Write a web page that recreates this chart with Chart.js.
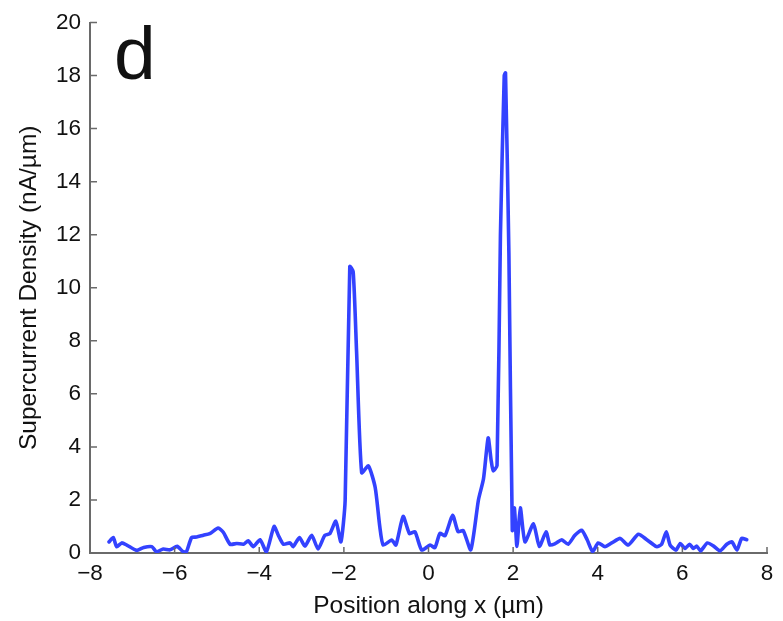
<!DOCTYPE html>
<html>
<head>
<meta charset="utf-8">
<script src="https://cdn.jsdelivr.net/npm/chart.js@4.4.1/dist/chart.umd.min.js"></script>
<style>
  html, body { margin: 0; padding: 0; background: #fff; }
  #wrap { width: 783px; height: 621px; position: relative; }
</style>
</head>
<body>
<div id="wrap"><canvas id="density-chart"></canvas></div>
<script>
// --- supercurrent density profile along x ---

const positions = [
  -7.55, -7.45, -7.37, -7.25, -7.13, -6.90, -6.73, -6.54, -6.43, -6.27,
  -6.11, -5.94, -5.80, -5.72, -5.60, -5.48, -5.32, -5.17, -4.97, -4.85,
  -4.69, -4.53, -4.37, -4.26, -4.14, -3.98, -3.83, -3.65, -3.55, -3.43,
  -3.27, -3.20, -3.05, -2.92, -2.76, -2.61, -2.45, -2.33, -2.19, -2.07,
  -1.97, -1.86, -1.78, -1.70, -1.58, -1.42, -1.26, -1.15, -1.07, -0.87,
  -0.77, -0.60, -0.45, -0.32, -0.16, 0.04, 0.15, 0.27, 0.39, 0.57,
  0.70, 0.82, 1.00, 1.18, 1.30, 1.41, 1.48, 1.53, 1.62, 1.70,
  1.79, 1.82, 1.90, 1.98, 2.03, 2.09, 2.17, 2.28, 2.48, 2.62,
  2.78, 2.87, 3.00, 3.15, 3.30, 3.46, 3.62, 3.75, 3.88, 4.01,
  4.17, 4.33, 4.53, 4.72, 4.96, 5.16, 5.39, 5.51, 5.62, 5.71,
  5.85, 5.95, 6.06, 6.17, 6.26, 6.34, 6.43, 6.59, 6.74, 6.89,
  7.05, 7.17, 7.29, 7.40, 7.52
];

const density = [
  0.42, 0.58, 0.24, 0.38, 0.30, 0.10, 0.21, 0.24, 0.05, 0.15,
  0.12, 0.25, 0.05, 0.05, 0.58, 0.60, 0.67, 0.73, 0.94, 0.78,
  0.33, 0.36, 0.33, 0.46, 0.24, 0.50, 0.05, 1.00, 0.67, 0.33,
  0.38, 0.24, 0.58, 0.26, 0.67, 0.15, 0.67, 0.73, 1.20, 0.42,
  1.98, 10.8, 10.6, 7.6, 3.03, 3.28, 2.47, 0.98, 0.30, 0.49,
  0.30, 1.38, 0.73, 0.80, 0.11, 0.30, 0.20, 0.74, 0.65, 1.42,
  0.80, 0.85, 0.12, 2.0, 2.8, 4.34, 3.5, 3.1, 3.3, 12.0,
  18.0, 18.1, 11.3, 0.86, 1.7, 0.25, 1.7, 0.42, 1.1, 0.25,
  0.80, 0.30, 0.36, 0.50, 0.33, 0.67, 0.86, 0.50, 0.05, 0.38,
  0.24, 0.38, 0.55, 0.30, 0.71, 0.50, 0.24, 0.33, 0.80, 0.30,
  0.11, 0.36, 0.17, 0.33, 0.17, 0.26, 0.08, 0.38, 0.26, 0.08,
  0.33, 0.42, 0.11, 0.55, 0.50
];

const xTicks = [-8, -6, -4, -2, 0, 2, 4, 6, 8];
const yTicks = [0, 2, 4, 6, 8, 10, 12, 14, 16, 18, 20];

const panelLabel = 'd';
const xTitle = 'Position along x (\u00b5m)';
const yTitle = 'Supercurrent Density (nA/\u00b5m)';

const FONT = '"Liberation Sans", Arial, Helvetica, sans-serif';
const AXIS_COLOR = '#6a6a6a';

// short tick marks pointing into the plot, plus the panel letter
const insideTicks = {
  id: 'insideTicks',
  afterDraw(chart) {
    const { ctx, chartArea, scales } = chart;
    ctx.save();
    ctx.strokeStyle = AXIS_COLOR;
    ctx.lineWidth = 1.5;
    ctx.beginPath();
    xTicks.forEach(v => {
      const px = scales.x.getPixelForValue(v);
      ctx.moveTo(px, chartArea.bottom);
      ctx.lineTo(px, chartArea.bottom - 6);
    });
    yTicks.forEach(v => {
      const py = scales.y.getPixelForValue(v);
      ctx.moveTo(chartArea.left, py);
      ctx.lineTo(chartArea.left + 7, py);
    });
    ctx.stroke();

    ctx.fillStyle = '#111';
    ctx.font = '75px ' + FONT;
    ctx.textBaseline = 'alphabetic';
    ctx.fillText(panelLabel, 114, 79);
    ctx.restore();
  }
};

function initChart() {
  const ctx = document.getElementById('density-chart').getContext('2d');
  const points = positions.map((x, i) => ({ x: x, y: density[i] }));

  new Chart(ctx, {
    type: 'line',
    data: {
      datasets: [{
        data: points,
        borderColor: '#3342ff',
        borderWidth: 3.6,
        borderJoinStyle: 'round',
        borderCapStyle: 'round',
        pointRadius: 0,
        tension: 0.2,
        fill: false
      }]
    },
    options: {
      responsive: true,
      maintainAspectRatio: false,
      animation: false,
      layout: { padding: { top: 16, right: 16, left: 0, bottom: 0 } },
      plugins: { legend: { display: false }, tooltip: { enabled: false } },
      scales: {
        x: {
          type: 'linear',
          min: -8,
          max: 8,
          afterFit: s => { s.height = 68; },
          afterBuildTicks: s => { s.ticks = xTicks.map(v => ({ value: v })); },
          grid: { display: false, drawTicks: false },
          border: { display: true, color: AXIS_COLOR, width: 2 },
          ticks: {
            padding: 7,
            color: '#111',
            font: { family: FONT, size: 22.5 },
            callback: v => String(v).replace('-', '\u2212')
          },
          title: {
            display: true,
            text: xTitle,
            color: '#111',
            font: { family: FONT, size: 24.5 },
            padding: { top: -4, bottom: 0 }
          }
        },
        y: {
          min: 0,
          max: 20,
          afterFit: s => { s.width = 90; },
          afterBuildTicks: s => { s.ticks = yTicks.map(v => ({ value: v })); },
          grid: { display: false, drawTicks: false },
          border: { display: true, color: AXIS_COLOR, width: 2 },
          ticks: {
            padding: 9,
            color: '#111',
            font: { family: FONT, size: 22.5 }
          },
          title: {
            display: true,
            text: yTitle,
            color: '#111',
            font: { family: FONT, size: 24.5 },
            padding: { top: 15, bottom: 0 }
          }
        }
      }
    },
    plugins: [insideTicks]
  });
}

document.addEventListener('DOMContentLoaded', initChart);
</script>
</body>
</html>
